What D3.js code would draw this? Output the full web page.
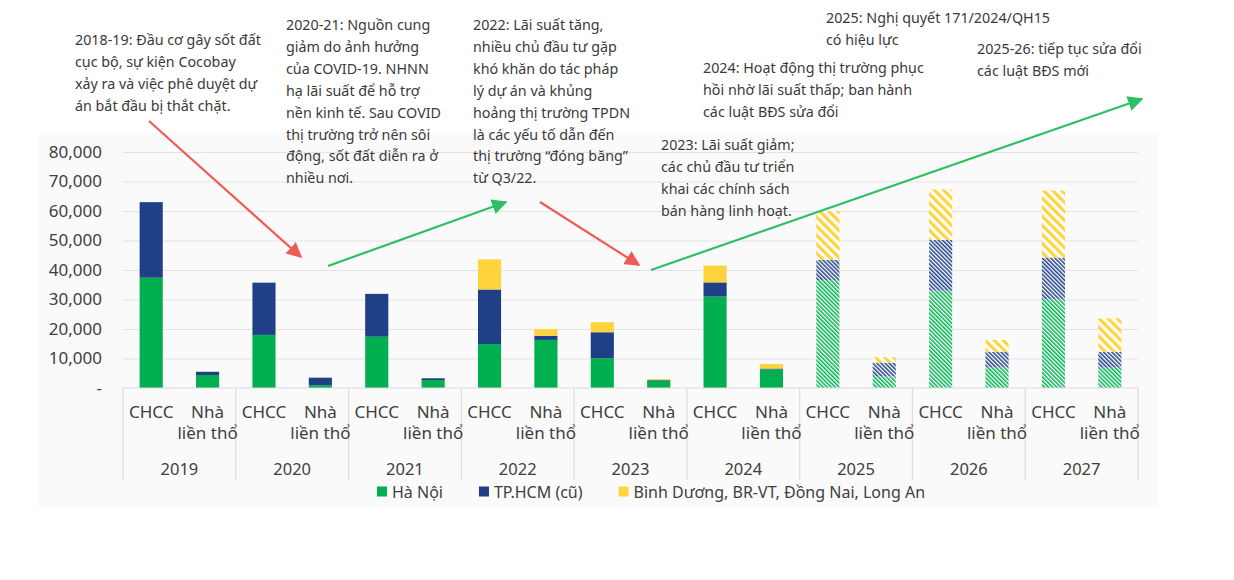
<!DOCTYPE html>
<html><head><meta charset="utf-8">
<script src="https://cdn.jsdelivr.net/npm/d3@7"></script>
<style>
body{margin:0;background:#fff}
svg{display:block;font-family:"Noto Sans",sans-serif}
</style>
</head><body>
<svg id="c" width="1234" height="580"></svg>
<script>
// ---------- DATA ----------
const years = ["2019","2020","2021","2022","2023","2024","2025","2026","2027"];
const types = ["CHCC","Nhà liền thổ"];
const forecastYears = ["2025","2026","2027"];
const seriesKeys = ["hn","hcm","bd"];
const seriesNames = ["Hà Nội","TP.HCM (cũ)","Bình Dương, BR-VT, Đồng Nai, Long An"];
// CHCC (căn hộ chung cư)
const hnCHCC  = [37400,18000,17400,14900,10100,31000,36600,33000,30100];
const hcmCHCC = [25600,17700,14500,18500, 8800, 4800, 6800,17200,14100];
const bdCHCC  = [    0,    0,    0,10200, 3400, 5700,16600,17100,22700];
// Nhà liền thổ
const hnNha   = [ 4400,  900, 2700,16300, 2500, 6300, 3900, 6900, 6900];
const hcmNha  = [ 1100, 2600,  600, 1400,  200,  300, 4700, 5400, 5400];
const bdNha   = [    0,    0,    0, 2300,  300, 1500, 1800, 4000,11300];
const yTicks = [0,10000,20000,30000,40000,50000,60000,70000,80000];
const annotations = [
  ["2018-19: Đầu cơ gây sốt đất","cục bộ, sự kiện Cocobay","xảy ra và việc phê duyệt dự","án bắt đầu bị thắt chặt."],
  ["2020-21: Nguồn cung","giảm do ảnh hưởng","của COVID-19. NHNN","hạ lãi suất để hỗ trợ","nền kinh tế. Sau COVID","thị trường trở nên sôi","động, sốt đất diễn ra ở","nhiều nơi."],
  ["2022: Lãi suất tăng,","nhiều chủ đầu tư gặp","khó khăn do tác pháp","lý dự án và khủng","hoảng thị trường TPDN","là các yếu tố dẫn đến","thị trường \u201cđóng băng\u201d","từ Q3/22."],
  ["2023: Lãi suất giảm;","các chủ đầu tư triển","khai các chính sách","bán hàng linh hoạt."],
  ["2024: Hoạt động thị trường phục","hồi nhờ lãi suất thấp; ban hành","các luật BĐS sửa đổi"],
  ["2025: Nghị quyết 171/2024/QH15","có hiệu lực"],
  ["2025-26: tiếp tục sửa đổi","các luật BĐS mới"]
];
const arrowKinds = ["down","up","down","up"];

// ---------- LAYOUT ----------
const W = 1234, H = 580;
const plot = {x0:123, x1:1138, y0:388, yTop:152};
const colors = {hn:"#00B050", hcm:"#1F3F87", bd:"#FFD33C"};
const annoPos = [[75,39.5,22.2],[286,25,21.9],[473,25,21.9],[661,145,21.9],[703,68.3,21.9],[826,18.3,21.9],[977,49.3,21.9]];
const arrowPos = [[149,121,301,257],[328,266,506,202],[540,202,639,265],[651,270,1142,99]];
const arrowColors = {down:"#EE5B55", up:"#2BC062"};

const svg = d3.select("#c");
const defs = svg.append("defs");

function stripes(id, color, size, stripe){
  const p = defs.append("pattern").attr("id",id)
    .attr("patternUnits","userSpaceOnUse").attr("width",size).attr("height",size)
    .attr("patternTransform","rotate(-45)");
  p.append("rect").attr("width",size).attr("height",size).attr("fill","#fff");
  p.append("rect").attr("width",stripe).attr("height",size).attr("fill",color);
}
stripes("h-hn", colors.hn, 2.9, 1.5);
stripes("h-hcm", colors.hcm, 2.9, 1.5);
stripes("h-bd", colors.bd, 6.4, 3.2);

Object.entries(arrowColors).forEach(([k,c])=>{
  defs.append("marker").attr("id","m-"+k).attr("viewBox","0 0 10 10")
    .attr("refX",9).attr("refY",5).attr("markerWidth",7).attr("markerHeight",7)
    .attr("markerUnits","strokeWidth").attr("orient","auto")
    .append("path").attr("d","M0,0 L10,5 L0,10 z").attr("fill",c);
});

// panel
svg.append("rect").attr("x",39).attr("y",133).attr("width",1120).attr("height",375).attr("fill","#FAFAFA");

// scales
const x = d3.scaleBand().domain(years).range([plot.x0, plot.x1]).padding(0);
const xi = d3.scaleBand().domain(types).range([0, x.bandwidth()]).paddingInner(0.59).paddingOuter(0.295);
const y = d3.scaleLinear().domain([0,80000]).range([plot.y0, plot.yTop]);

// gridlines
svg.append("g").attr("transform",`translate(${plot.x0},0)`)
  .call(d3.axisLeft(y).tickValues(yTicks.slice(1)).tickSize(-(plot.x1-plot.x0)).tickFormat(""))
  .call(g=>g.select(".domain").remove())
  .call(g=>g.selectAll("line").attr("stroke","#E3E3E3").attr("stroke-width",1.2));

// y tick labels
svg.append("g").attr("transform",`translate(${plot.x0},0)`)
  .call(d3.axisLeft(y).tickValues(yTicks).tickSize(0).tickPadding(21)
    .tickFormat(d=> d===0 ? "-" : d3.format(",")(d)))
  .call(g=>g.select(".domain").remove())
  .call(g=>g.selectAll("text").attr("font-size",17).attr("fill","#404040")
    .attr("font-family","'Noto Sans',sans-serif"));

// data rows
const rows = [];
years.forEach((yr,i)=>{
  rows.push({year:yr,type:types[0],hn:hnCHCC[i],hcm:hcmCHCC[i],bd:bdCHCC[i]});
  rows.push({year:yr,type:types[1],hn:hnNha[i],hcm:hcmNha[i],bd:bdNha[i]});
});
const stacked = d3.stack().keys(seriesKeys)(rows);

const gBars = svg.append("g");
stacked.forEach(layer=>{
  gBars.selectAll(null).data(layer).join("rect")
    .attr("x",d=>x(d.data.year)+xi(d.data.type))
    .attr("width",xi.bandwidth())
    .attr("y",d=>y(d[1]))
    .attr("height",d=>Math.max(0,y(d[0])-y(d[1])))
    .attr("fill",d=> forecastYears.includes(d.data.year) ? `url(#h-${layer.key})` : colors[layer.key]);
});

// x axis: baseline and separators
svg.append("line").attr("x1",plot.x0).attr("x2",plot.x1).attr("y1",plot.y0).attr("y2",plot.y0)
  .attr("stroke","#D9D9D9").attr("stroke-width",1.2);
const seps = years.map(d=>x(d)).concat([plot.x1]);
svg.append("g").selectAll("line").data(seps).join("line")
  .attr("x1",d=>d).attr("x2",d=>d).attr("y1",plot.y0).attr("y2",480)
  .attr("stroke","#DDDDDD").attr("stroke-width",1.2);

// category labels
const gCat = svg.append("g").attr("font-size",17).attr("fill","#404040").attr("text-anchor","middle");
years.forEach(yr=>{
  types.forEach(t=>{
    const cx = x(yr)+xi(t)+xi.bandwidth()/2;
    const words = t==="CHCC" ? ["CHCC"] : ["Nhà","liền thổ"];
    words.forEach((w,k)=>{
      gCat.append("text").attr("x",cx).attr("y",418+k*21).text(w);
    });
  });
  gCat.append("text").attr("x",x(yr)+x.bandwidth()/2).attr("y",475).attr("font-size",16.5).text(yr);
});

// legend
let lx = 377;
const gLeg = svg.append("g").attr("font-size",16).attr("fill","#404040");
seriesKeys.forEach((k,i)=>{
  gLeg.append("rect").attr("x",lx).attr("y",486.5).attr("width",10).attr("height",10).attr("fill",colors[k]);
  const t = gLeg.append("text").attr("x",lx+15).attr("y",497.5).text(seriesNames[i]);
  lx += 15 + t.node().getComputedTextLength() + 36;
});

// annotations
const gAnn = svg.append("g").attr("font-size",14.3).attr("fill","#3A3A3A");
annotations.forEach((lines,i)=>{
  const [ax,ay,lh] = annoPos[i];
  lines.forEach((l,k)=>{
    gAnn.append("text").attr("x",ax).attr("y",ay+k*lh+5).text(l);
  });
});

// arrows
arrowPos.forEach((p,i)=>{
  const k = arrowKinds[i];
  svg.append("line").attr("x1",p[0]).attr("y1",p[1]).attr("x2",p[2]).attr("y2",p[3])
    .attr("stroke",arrowColors[k]).attr("stroke-width",2.2)
    .attr("marker-end",`url(#m-${k})`);
});
</script>
</body></html>
